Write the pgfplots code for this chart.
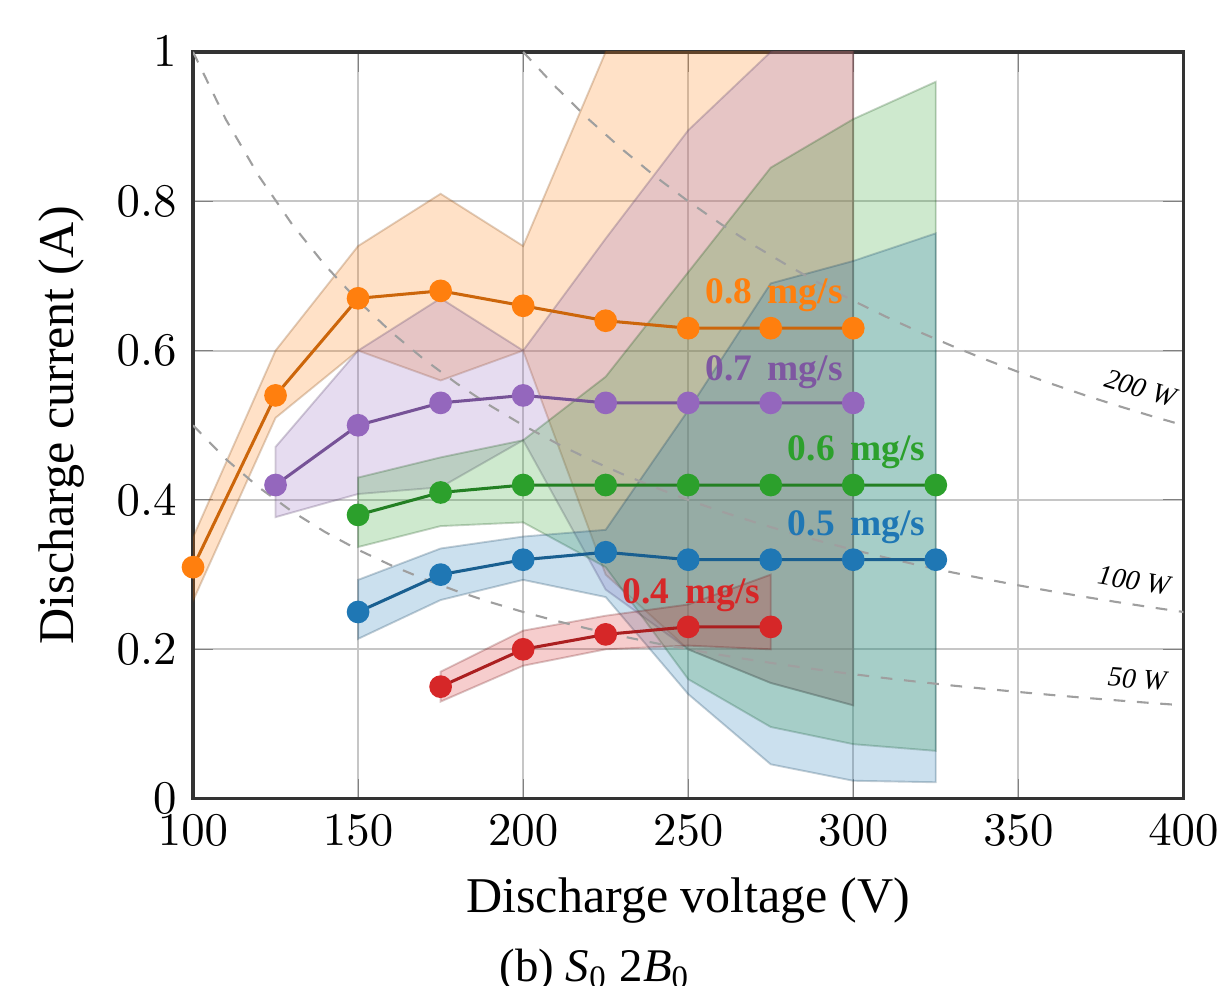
\documentclass[border=0pt]{standalone}
\usepackage{fontspec}
\setmainfont{Liberation Serif}
\usepackage{pgfplots}
\pgfplotsset{compat=1.18}

\definecolor{cor}{HTML}{FF7F0E}
\definecolor{cpu}{HTML}{9467BD}
\definecolor{cgr}{HTML}{2CA02C}
\definecolor{cbl}{HTML}{1F77B4}
\definecolor{cre}{HTML}{D62728}

\pgfplotsset{
  band/.style={fill=#1, fill opacity=0.23, draw=#1!50!black, draw opacity=0.25, line width=0.4pt},
  ser/.style={draw=#1!80!black, line width=0.65pt, mark=*, mark size=2.1pt,
              mark options={fill=#1, draw=#1, solid}},
  pw/.style={gray!75, line width=0.45pt, dash pattern=on 2.5pt off 2.5pt},
}

\begin{document}
\begin{tikzpicture}
\begin{axis}[
    scale only axis,
    width=7.44cm, height=5.61cm,
    xmin=100, xmax=400,
    ymin=0, ymax=1,
    xtick={100,150,...,400},
    ytick={0,0.2,0.4,0.6,0.8,1},
    grid=major,
    grid style={gray!45, line width=0.4pt},
    axis line style={black!80, line width=0.7pt},
    xlabel={Discharge voltage (V)},
    ylabel={Discharge current (A)},
    label style={font=\fontsize{10.7}{12}\selectfont},
    tick label style={font=\fontsize{10}{12}\selectfont},
    clip mode=individual,
]

% uncertainty bands (upper edge, then lower edge back)
\addplot[band=cor] coordinates {
(100,0.35) (125,0.60) (150,0.74) (175,0.81) (200,0.74) (225,1.00) (250,1.25) (275,1.45) (300,1.60)
(300,0.125) (275,0.155) (250,0.20) (225,0.30) (200,0.60) (175,0.56) (150,0.60) (125,0.51) (100,0.265)
} -- cycle;

\addplot[band=cpu] coordinates {
(125,0.471) (150,0.60) (175,0.67) (200,0.60) (225,0.75) (250,0.895) (275,1.00) (300,1.10)
(300,0.125) (275,0.155) (250,0.20) (225,0.28) (200,0.48) (175,0.417) (150,0.408) (125,0.377)
} -- cycle;

\addplot[band=cgr] coordinates {
(150,0.43) (175,0.457) (200,0.48) (225,0.565) (250,0.705) (275,0.845) (300,0.91) (325,0.96)
(325,0.064) (300,0.073) (275,0.096) (250,0.16) (225,0.31) (200,0.37) (175,0.365) (150,0.337)
} -- cycle;

\addplot[band=cbl] coordinates {
(150,0.293) (175,0.335) (200,0.351) (225,0.36) (250,0.52) (275,0.69) (300,0.72) (325,0.757)
(325,0.022) (300,0.024) (275,0.046) (250,0.14) (225,0.27) (200,0.293) (175,0.266) (150,0.214)
} -- cycle;

\addplot[band=cre] coordinates {
(175,0.17) (200,0.225) (225,0.245) (250,0.26) (275,0.30)
(275,0.20) (250,0.205) (225,0.20) (200,0.178) (175,0.13)
} -- cycle;

% constant power curves
\addplot[pw] coordinates {
(100,0.5) (110,0.4545) (120,0.4167) (130,0.3846) (140,0.3571) (150,0.3333) (160,0.3125)
(170,0.2941) (180,0.2778) (190,0.2632) (200,0.25) (210,0.2381) (220,0.2273) (230,0.2174)
(240,0.2083) (250,0.2) (260,0.1923) (270,0.1852) (280,0.1786) (290,0.1724) (300,0.1667)
(310,0.1613) (320,0.1563) (330,0.1515) (340,0.1471) (350,0.1429) (360,0.1389) (370,0.1351)
(380,0.1316) (390,0.1282) (400,0.125)
};
\addplot[pw] coordinates {
(100,1.0) (110,0.9091) (120,0.8333) (130,0.7692) (140,0.7143) (150,0.6667) (160,0.625)
(170,0.5882) (180,0.5556) (190,0.5263) (200,0.5) (210,0.4762) (220,0.4545) (230,0.4348)
(240,0.4167) (250,0.4) (260,0.3846) (270,0.3704) (280,0.3571) (290,0.3448) (300,0.3333)
(310,0.3226) (320,0.3125) (330,0.3030) (340,0.2941) (350,0.2857) (360,0.2778) (370,0.2703)
(380,0.2632) (390,0.2564) (400,0.25)
};
\addplot[pw] coordinates {
(200,1.0) (210,0.9524) (220,0.9091) (230,0.8696) (240,0.8333) (250,0.8) (260,0.7692)
(270,0.7407) (280,0.7143) (290,0.6897) (300,0.6667) (310,0.6452) (320,0.625) (330,0.6061)
(340,0.5882) (350,0.5714) (360,0.5556) (370,0.5405) (380,0.5263) (390,0.5128) (400,0.5)
};

% measured currents
\addplot[ser=cor] coordinates {
(100,0.31) (125,0.54) (150,0.67) (175,0.68) (200,0.66) (225,0.64) (250,0.63) (275,0.63) (300,0.63)
};
\addplot[ser=cpu] coordinates {
(125,0.42) (150,0.50) (175,0.53) (200,0.54) (225,0.53) (250,0.53) (275,0.53) (300,0.53)
};
\addplot[ser=cgr] coordinates {
(150,0.38) (175,0.41) (200,0.42) (225,0.42) (250,0.42) (275,0.42) (300,0.42) (325,0.42)
};
\addplot[ser=cbl] coordinates {
(150,0.25) (175,0.30) (200,0.32) (225,0.33) (250,0.32) (275,0.32) (300,0.32) (325,0.32)
};
\addplot[ser=cre] coordinates {
(175,0.15) (200,0.20) (225,0.22) (250,0.23) (275,0.23)
};

\node[font=\footnotesize\bfseries, text=cor] at (axis cs:276,0.674) {0.8 \,mg/s};
\node[font=\footnotesize\bfseries, text=cpu!85!black] at (axis cs:276,0.571) {0.7 \,mg/s};
\node[font=\footnotesize\bfseries, text=cgr] at (axis cs:301,0.464) {0.6 \,mg/s};
\node[font=\footnotesize\bfseries, text=cbl] at (axis cs:301,0.363) {0.5 \,mg/s};
\node[font=\footnotesize\bfseries, text=cre] at (axis cs:251,0.273) {0.4 \,mg/s};

\node[font=\fontsize{6}{7}\selectfont\itshape, rotate=-17] at (axis cs:387,0.55) {200 W};
\node[font=\fontsize{6}{7}\selectfont\itshape, rotate=-9] at (axis cs:385,0.292) {100 W};
\node[font=\fontsize{6}{7}\selectfont\itshape, rotate=-4.5] at (axis cs:386,0.16) {50 W};
\end{axis}

\node at ([shift={(-0.70cm,-1.29cm)}]current axis.south) {(b) \textit{S}\textsubscript{0} 2\textit{B}\textsubscript{0}};

\pgfresetboundingbox
\path[use as bounding box] ([shift={(-1.45cm,-1.40cm)}]current axis.south west)
  rectangle ([shift={(0.29cm,0.39cm)}]current axis.north east);
\end{tikzpicture}
\end{document}
